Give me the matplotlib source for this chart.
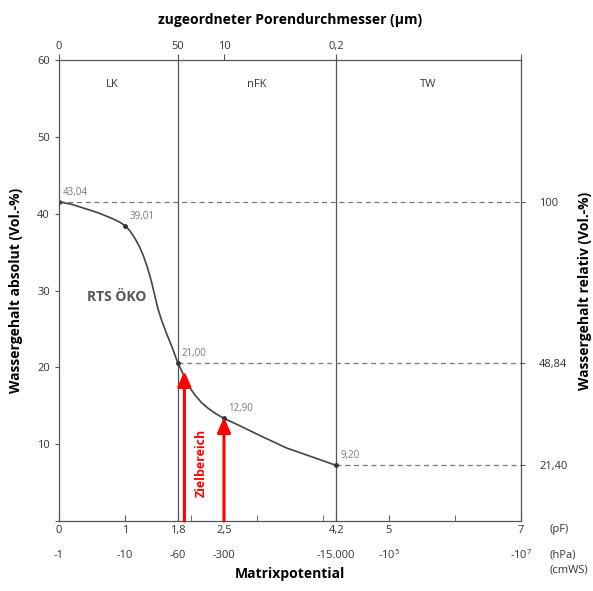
import matplotlib
matplotlib.use('Agg')
import matplotlib.pyplot as plt
from matplotlib.transforms import blended_transform_factory

plt.rcParams['font.family'] = ['Open Sans', 'DejaVu Sans']
plt.rcParams['mathtext.fontset'] = 'custom'
plt.rcParams['mathtext.rm'] = 'Open Sans'

# curve (x in pF, y in Vol.-%)
curve_pf = [0, 0.2, 0.4, 0.6, 0.8, 0.92, 1.01, 1.08, 1.15, 1.22, 1.28, 1.34,
            1.40, 1.45, 1.50, 1.56, 1.63, 1.71, 1.8, 1.91, 1.98, 2.06, 2.16,
            2.26, 2.37, 2.49, 2.74, 3.05, 3.45, 3.85, 4.18]
curve_wc = [41.56, 41.2, 40.65, 40.1, 39.4, 38.9, 38.4, 37.7, 36.8, 35.7,
            34.5, 33.0, 31.2, 29.4, 27.6, 26.0, 24.4, 22.7, 20.6, 18.6, 17.4,
            16.4, 15.4, 14.67, 14.0, 13.4, 12.4, 11.1, 9.5, 8.3, 7.3]

# labelled points
pt_pf = [0, 1, 1.8, 2.5, 4.2]
pt_wc = [41.56, 38.4, 20.6, 13.4, 7.3]
pt_labels = ['43,04', '39,01', '21,00', '12,90', '9,20']

# axes ticks
pf_ticks = [0, 1, 1.8, 2.5, 4.2, 5, 7]
pf_labels = ['0', '1', '1,8', '2,5', '4,2', '5', '7']
pf_minor = [2, 3, 4, 6]
hpa_labels = ['-1', '-10', '-60', '-300', '-15.000', '-10$^5$', '-10$^7$']
pore_ticks = [0, 1.8, 2.5, 4.2]
pore_labels = ['0', '50', '10', '0,2']
rel_ticks = [41.56, 20.6, 7.3]
rel_labels = ['100', '48,84', '21,40']

zones = ['LK', 'nFK', 'TW']
zone_x = [0.8, 3.0, 5.6]

# target range arrows
arrow_pf = [1.9, 2.5]
arrow_top = [19.5, 13.5]

dark = '#555555'
txt = '#333333'

fig = plt.figure(figsize=(5.93, 5.91), dpi=100)
ax = fig.add_axes([0.0995, 0.1184, 0.779, 0.780])
ax.set_xlim(0, 7)
ax.set_ylim(0, 60)

for s in ax.spines.values():
    s.set_color(dark)
    s.set_linewidth(0.9)

# vertical separators
for xv in [1.8, 4.2]:
    ax.axvline(xv, color=dark, lw=0.9)

# dashed reference lines
dash = (0, (4, 3))
ax.plot([0, 7], [pt_wc[0], pt_wc[0]], ls=dash, color='#777777', lw=0.9)
ax.plot([1.8, 7], [pt_wc[2], pt_wc[2]], ls=dash, color='#777777', lw=0.9)
ax.plot([4.2, 7], [pt_wc[4], pt_wc[4]], ls=dash, color='#777777', lw=0.9)

# curve
ax.plot(curve_pf, curve_wc, color='#444444', lw=1.2, solid_joinstyle='round')
ax.plot(pt_pf, pt_wc, 'o', color='#333333', ms=2.5)
for x, y, l in zip(pt_pf, pt_wc, pt_labels):
    ax.annotate(l, (x, y), xytext=(3, 3), textcoords='offset points',
                fontsize=7, color='#777777', ha='left', va='bottom')

# zones
for x, z in zip(zone_x, zones):
    ax.text(x, 56.8, z, ha='center', va='center', fontsize=8, color=txt)

ax.text(0.87, 29.2, 'RTS ÖKO', ha='center', va='center', fontsize=10,
        fontweight='bold', color='#555555')

# arrows
for x, yt in zip(arrow_pf, arrow_top):
    ax.annotate('', xy=(x, yt), xytext=(x, 0),
                arrowprops=dict(arrowstyle='-|>,head_length=0.9,head_width=0.4',
                                color='red', lw=2.2, shrinkA=0, shrinkB=0))
ax.text(2.15, 7.6, 'Zielbereich', rotation=90, ha='center', va='center',
        color='red', fontsize=9, fontweight='bold')

# bottom axis
ax.set_xticks(pf_ticks)
ax.set_xticklabels(pf_labels)
ax.set_xticks(pf_minor, minor=True)
ax.tick_params(axis='x', which='both', direction='in', length=4,
               color=dark, labelsize=8, labelcolor=txt, pad=3)
trans = blended_transform_factory(ax.transData, ax.transAxes)
for x, l in zip(pf_ticks, hpa_labels):
    ax.text(x, -0.075, l, transform=trans, ha='center', va='center',
            fontsize=8, color=txt)
ax.text(1.061, -0.018, '(pF)', transform=ax.transAxes, ha='left', va='center',
        fontsize=8, color=txt)
ax.text(1.061, -0.09, '(hPa)\n(cmWS)', transform=ax.transAxes, ha='left',
        va='center', fontsize=8, color=txt, linespacing=1.5)
ax.set_xlabel('Matrixpotential', fontsize=10, fontweight='bold', labelpad=22)

# left axis
ax.set_yticks([0, 10, 20, 30, 40, 50, 60])
ax.set_yticklabels(['', '10', '20', '30', '40', '50', '60'])
ax.tick_params(axis='y', direction='out', length=3, color=dark,
               labelsize=8, labelcolor=txt)
ax.set_ylabel('Wassergehalt absolut (Vol.-%)', fontsize=10,
              fontweight='bold', labelpad=10)

# top axis
top = ax.twiny()
top.set_xlim(0, 7)
top.set_xticks(pore_ticks + [7])
top.set_xticklabels(pore_labels + [''])
top.tick_params(axis='x', direction='out', length=4, color=dark,
                labelsize=8, labelcolor=txt, pad=2)
top.set_xlabel('zugeordneter Porendurchmesser (µm)', fontsize=10,
               fontweight='bold', labelpad=12)
for s in top.spines.values():
    s.set_visible(False)

# right axis
right = ax.twinx()
right.set_ylim(0, 60)
right.set_yticks(rel_ticks)
right.set_yticklabels(rel_labels)
right.tick_params(axis='y', direction='out', length=3, color=dark,
                  labelsize=8, labelcolor=txt, pad=10)
right.set_ylabel('Wassergehalt relativ (Vol.-%)', fontsize=10,
                 fontweight='bold', labelpad=8)
for s in right.spines.values():
    s.set_visible(False)

fig.savefig('out.png', dpi=100)
